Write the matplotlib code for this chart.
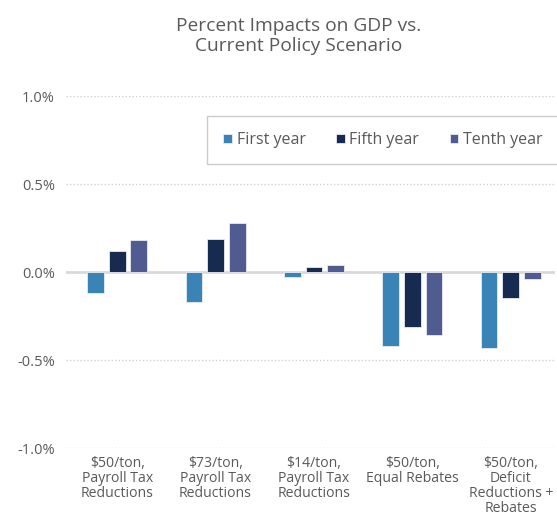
import numpy as np
import matplotlib.pyplot as plt

plt.rcParams['font.family'] = ['Open Sans', 'DejaVu Sans']

categories = ["$50/ton,\nPayroll Tax\nReductions", "$73/ton,\nPayroll Tax\nReductions",
              "$14/ton,\nPayroll Tax\nReductions", "$50/ton,\nEqual Rebates",
              "$50/ton,\nDeficit\nReductions +\nRebates"]
series = ["First year", "Fifth year", "Tenth year"]
first_year = [-0.12, -0.17, -0.03, -0.42, -0.43]
fifth_year = [0.12, 0.19, 0.03, -0.31, -0.15]
tenth_year = [0.18, 0.28, 0.04, -0.36, -0.04]
yticks = [1.0, 0.5, 0.0, -0.5, -1.0]

colors = ["#3A83B6", "#172B50", "#505B91"]
text_col = "#595959"

fig = plt.figure(figsize=(5.57, 5.19), dpi=100)
ax = fig.add_axes([66/557, 1-448/519, 489/557, (448-96)/519])

x = np.arange(len(categories))
w = 0.17
pitch = 0.22
for i, (vals, name) in enumerate(zip([first_year, fifth_year, tenth_year], series)):
    ax.bar(x + (i-1)*pitch, vals, w, color=colors[i], edgecolor="#E8EAF0", linewidth=0.6,
           label=name, zorder=3)

ax.set_ylim(-1.0, 1.0)
ax.set_xlim(-0.52, 4.45)
ax.set_yticks(yticks)
ax.set_yticklabels([f"{v:.1f}%" for v in yticks], color=text_col, fontsize=10.5)
for v in yticks:
    if v == 0:
        ax.axhline(0, color="#D9D9D9", lw=2, zorder=2)
    else:
        ax.axhline(v, color="#D0D0D0", lw=1, ls=(0, (1, 1.5)), zorder=1)

ax.set_xticks(x)
ax.set_xticklabels(categories, color=text_col, fontsize=10.1, linespacing=1.0, va="top")
ax.tick_params(length=0, pad=8)
ax.tick_params(axis="x", pad=6)
for s in ax.spines.values():
    s.set_visible(False)

fig.text(0.537, 0.968, "Percent Impacts on GDP vs.\nCurrent Policy Scenario", ha="center", va="top",
         fontsize=13.8, color=text_col, linespacing=1.15)

leg = ax.legend(loc="upper left", bbox_to_anchor=((207-66)/489, (448-116)/352), ncol=3,
                frameon=True, fancybox=False, fontsize=11.5, handlelength=0.55, handleheight=0.55,
                handletextpad=0.3, columnspacing=1.9, borderpad=1.0, borderaxespad=0,
                labelcolor=text_col)
leg.get_frame().set_edgecolor("#BFBFBF")
leg.get_frame().set_linewidth(1)

fig.savefig("out.png", dpi=100)
